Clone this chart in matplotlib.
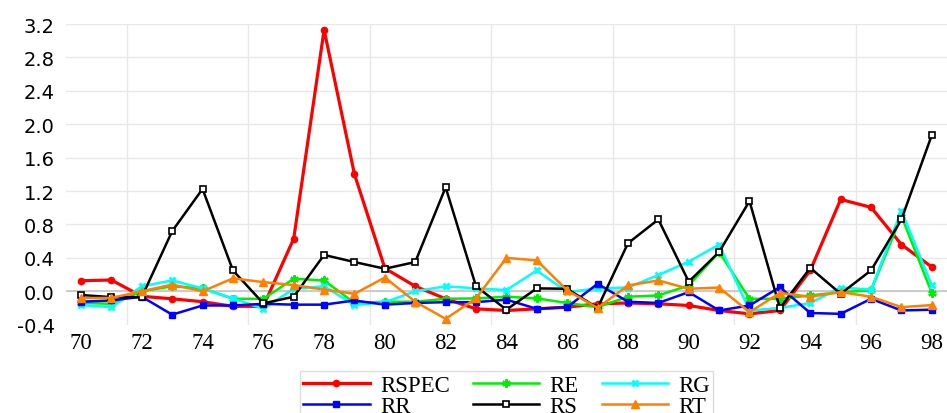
import matplotlib
matplotlib.use('Agg')
import matplotlib.pyplot as plt
from matplotlib.ticker import FixedLocator, FormatStrFormatter

plt.rcParams['axes.unicode_minus'] = False

years = list(range(70, 99))

rspec = [0.127, 0.135, -0.06, -0.09, -0.125, -0.18, -0.18, 0.63, 3.13, 1.40,
         0.275, 0.06, -0.09, -0.21, -0.23, -0.21, -0.19, -0.15, -0.14,
         -0.15, -0.17, -0.23, -0.27, -0.23, 0.25, 1.10, 1.005, 0.56, 0.29]
re_ = [-0.14, -0.15, 0.0, 0.06, 0.035, -0.09, -0.09, 0.15, 0.13, -0.14,
       -0.125, -0.125, -0.09, -0.085, -0.065, -0.085, -0.14, -0.19, -0.065,
       -0.05, 0.07, 0.47, -0.09, -0.09, -0.05, -0.01, 0.01, 0.90, -0.02]
rg = [-0.165, -0.19, 0.06, 0.13, 0.035, -0.085, -0.21, 0.03, 0.06, -0.165,
      -0.13, 0.0, 0.06, 0.035, 0.015, 0.25, -0.01, 0.035, 0.045,
      0.195, 0.355, 0.56, -0.23, -0.20, -0.14, 0.045, 0.02, 0.965, 0.07]
rr = [-0.125, -0.11, -0.065, -0.28, -0.17, -0.17, -0.15, -0.16, -0.16, -0.11,
      -0.16, -0.14, -0.13, -0.13, -0.10, -0.21, -0.19, 0.09, -0.125,
      -0.14, -0.01, -0.23, -0.17, 0.05, -0.26, -0.27, -0.09, -0.23, -0.22]
rs = [-0.045, -0.07, -0.07, 0.72, 1.225, 0.25, -0.145, -0.065, 0.435, 0.35,
      0.27, 0.35, 1.245, 0.06, -0.22, 0.035, 0.03, -0.20, 0.575,
      0.86, 0.115, 0.47, 1.08, -0.20, 0.28, -0.03, 0.25, 0.86, 1.87]
rt = [-0.08, -0.08, 0.0, 0.08, 0.0, 0.155, 0.11, 0.075, 0.02, -0.03,
      0.165, -0.125, -0.33, -0.085, 0.40, 0.37, 0.01, -0.20, 0.07,
      0.13, 0.03, 0.045, -0.25, -0.02, -0.065, -0.01, -0.065, -0.19, -0.165]

yticks = [-0.4, 0.0, 0.4, 0.8, 1.2, 1.6, 2.0, 2.4, 2.8, 3.2]
xticks = list(range(70, 99, 2))

fig = plt.figure(figsize=(9.47, 4.14), dpi=100)
ax = fig.add_axes([0.0695, 0.2133, 0.9305, 0.7263])

ax.set_xlim(69.5, 98.5)
ax.set_ylim(-0.4, 3.2)

# grid: horizontal at y ticks, vertical every 4 categories between points
for y in yticks[1:]:
    ax.axhline(y, color='#e8e8e8', lw=1.0, zorder=0)
for x in [71.5, 75.5, 79.5, 83.5, 87.5, 91.5, 95.5]:
    ax.axvline(x, color='#e8e8e8', lw=1.0, zorder=0)
ax.axhline(0.0, color='#c4c4c4', lw=1.2, zorder=0.5)

l_rspec, = ax.plot(years, rspec, color='#ff0000', lw=2.3, marker='o', ms=4.5, label='RSPEC')
l_re, = ax.plot(years, re_, color='#00ee00', lw=1.8, marker=(6, 2, 0), ms=6, mew=1.6, label='RE')
l_rg, = ax.plot(years, rg, color='#00ffff', lw=1.8, marker='x', ms=5, mew=2.0, label='RG')
l_rr, = ax.plot(years, rr, color='#0000ff', lw=1.8, marker='s', ms=5, label='RR')
l_rs, = ax.plot(years, rs, color='#000000', lw=1.8, marker='s', ms=5, mfc='white', mew=1.2, label='RS')
l_rt, = ax.plot(years, rt, color='#ff8000', lw=1.8, marker='^', ms=5.5, label='RT')

for s in ax.spines.values():
    s.set_visible(False)

ax.yaxis.set_major_locator(FixedLocator(yticks))
ax.yaxis.set_major_formatter(FormatStrFormatter('%.1f'))
ax.set_xticks(xticks)
ax.set_xticklabels([str(x) for x in xticks], family='Liberation Serif', fontsize=16.5)
for lab in ax.get_yticklabels():
    lab.set_family('DejaVu Sans')
    lab.set_fontsize(14)
ax.tick_params(axis='both', length=0)
ax.tick_params(axis='y', pad=8)
ax.tick_params(axis='x', pad=5)

handles = [l_rspec, l_rr, l_re, l_rs, l_rg, l_rt]
leg = fig.legend(handles=handles, labels=[h.get_label() for h in handles],
                 loc='upper center', bbox_to_anchor=(0.535, 0.101), ncol=3,
                 prop={'family': 'Liberation Serif', 'size': 16.5},
                 handlelength=2.9, handletextpad=0.45, columnspacing=1.0,
                 labelspacing=0.0, borderpad=0.15, borderaxespad=0.0,
                 fancybox=False, edgecolor='#dddddd', framealpha=1.0)
leg.get_frame().set_linewidth(1.0)

fig.savefig('out.png', dpi=100)
